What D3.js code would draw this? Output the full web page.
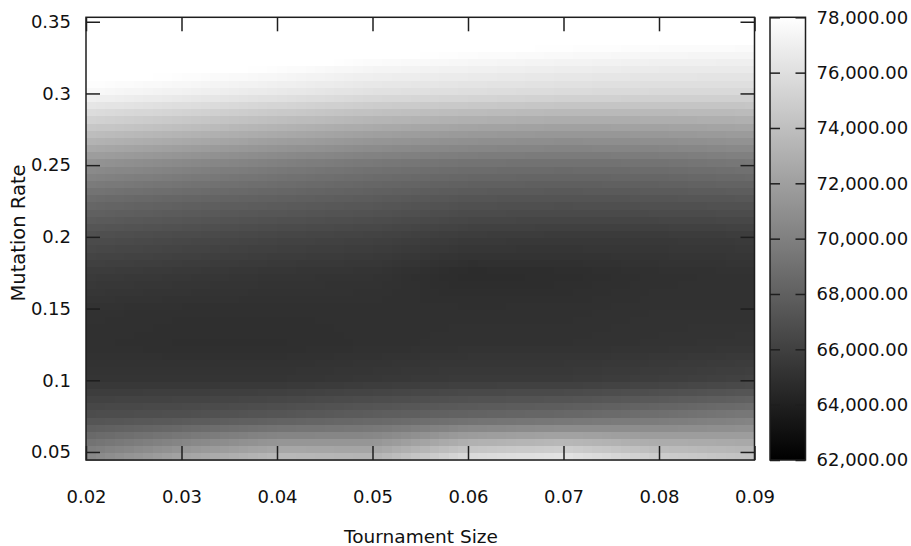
<!DOCTYPE html>
<html>
<head>
<meta charset="utf-8">
<script src="https://cdn.jsdelivr.net/npm/d3@7"></script>
<style>
  html, body { margin: 0; padding: 0; background: #fff; }
  svg { display: block; }
  text { font-family: "DejaVu Sans", Verdana, sans-serif; fill: #111; }
</style>
</head>
<body>
<svg id="chart" width="911" height="546"></svg>
<script>
// Grid nodes of the parameter sweep
const tournamentSizes = [0.02, 0.03, 0.04, 0.05, 0.06, 0.07, 0.08, 0.09];
const mutationRates = [0.044, 0.075, 0.1, 0.125, 0.15, 0.175, 0.2, 0.225, 0.25, 0.275, 0.3, 0.325, 0.354];

// Fitness at each node, one row per mutation rate (bottom row first)
const fitness = [
  [70800, 72800, 74200, 73800, 76400, 77000, 75400, 74600],
  [66900, 67100, 67500, 68000, 68400, 68700, 69200, 69800],
  [65300, 65300, 65300, 65500, 65700, 65700, 65900, 66200],
  [65000, 64900, 64900, 65000, 65100, 65100, 65200, 65300],
  [65100, 65000, 65000, 65000, 65000, 65000, 65100, 65100],
  [65700, 65500, 65300, 65200, 64700, 64800, 65000, 65100],
  [66900, 66600, 66300, 66100, 65700, 65600, 65600, 65700],
  [68600, 68200, 67900, 67600, 67200, 67100, 67200, 67300],
  [71000, 70400, 69800, 69300, 69000, 68900, 69000, 69300],
  [74300, 73700, 73000, 72400, 72000, 71800, 71900, 72100],
  [77500, 77000, 76500, 76000, 75800, 75600, 75500, 75500],
  [79000, 78800, 78500, 78000, 77700, 77500, 77300, 77200],
  [80200, 80200, 79900, 79600, 79300, 79300, 79300, 79300]
];

const xTicks = [0.02, 0.03, 0.04, 0.05, 0.06, 0.07, 0.08, 0.09];
const yTicks = [0.05, 0.1, 0.15, 0.2, 0.25, 0.3, 0.35];
const colorTicks = [62000, 64000, 66000, 68000, 70000, 72000, 74000, 76000, 78000];
const colorRange = [62000, 78000];
const xTitle = "Tournament Size";
const yTitle = "Mutation Rate";

// Layout
const plot = { left: 86, right: 754.5, top: 17.3, bottom: 460 };
const bar = { left: 770, right: 805.5 };
const frameColor = "#1e1e1e";
const tickFont = 18;

const svg = d3.select("#chart");

const x = d3.scaleLinear().domain([0.02, 0.09]).range([plot.left, plot.right]);
const y = d3.scaleLinear().domain([0.0444, 0.3531]).range([plot.bottom, plot.top]);
const gray = d3.scaleLinear().domain(colorRange).range(["#000000", "#ffffff"]).clamp(true);

// Bilinear shading between grid nodes (sub-cells like pm3d interpolation)
function shade(xv, yv) {
  const i = Math.max(0, Math.min(tournamentSizes.length - 2, d3.bisectRight(tournamentSizes, xv) - 1));
  const j = Math.max(0, Math.min(mutationRates.length - 2, d3.bisectRight(mutationRates, yv) - 1));
  const x0 = tournamentSizes[i], x1 = tournamentSizes[i + 1];
  const y0 = mutationRates[j], y1 = mutationRates[j + 1];
  const tx = Math.max(0, Math.min(1, (xv - x0) / (x1 - x0)));
  const ty = Math.max(0, Math.min(1, (yv - y0) / (y1 - y0)));
  const a = fitness[j][i], b = fitness[j][i + 1];
  const c = fitness[j + 1][i], d = fitness[j + 1][i + 1];
  return (a * (1 - tx) + b * tx) * (1 - ty) + (c * (1 - tx) + d * tx) * ty;
}

const xStep = 0.001, yStep = 0.005;
const cells = [];
const [yLo, yHi] = y.domain();
for (let xs = 0.02; xs < 0.09 - 1e-9; xs += xStep) {
  for (let ys = yLo; ys < yHi - 1e-9; ys += yStep) {
    const xe = Math.min(xs + xStep, 0.09), ye = Math.min(ys + yStep, yHi);
    cells.push({ x0: xs, x1: xe, y0: ys, y1: ye, v: shade((xs + xe) / 2, (ys + ye) / 2) });
  }
}

svg.append("g")
  .attr("shape-rendering", "crispEdges")
  .selectAll("rect")
  .data(cells)
  .join("rect")
  .attr("x", d => x(d.x0))
  .attr("y", d => y(d.y1))
  .attr("width", d => x(d.x1) - x(d.x0) + 0.6)
  .attr("height", d => y(d.y0) - y(d.y1) + 0.6)
  .attr("fill", d => gray(d.v));

// Axes with inward ticks on all four sides
const tickLen = 14;
const fmtY = d => String(+d.toFixed(2));

const gx = svg.append("g")
  .attr("transform", `translate(0,${plot.bottom})`)
  .call(d3.axisBottom(x).tickValues(xTicks).tickFormat(d3.format(".2f"))
    .tickSizeInner(-tickLen).tickSizeOuter(0).tickPadding(30));
const gxTop = svg.append("g")
  .attr("transform", `translate(0,${plot.top})`)
  .call(d3.axisTop(x).tickValues(xTicks).tickFormat("")
    .tickSizeInner(-tickLen).tickSizeOuter(0));
const gy = svg.append("g")
  .attr("transform", `translate(${plot.left},0)`)
  .call(d3.axisLeft(y).tickValues(yTicks).tickFormat(fmtY)
    .tickSizeInner(-tickLen).tickSizeOuter(0).tickPadding(15));
const gyRight = svg.append("g")
  .attr("transform", `translate(${plot.right},0)`)
  .call(d3.axisRight(y).tickValues(yTicks).tickFormat("")
    .tickSizeInner(-tickLen).tickSizeOuter(0));

[gx, gxTop, gy, gyRight].forEach(g => {
  g.select(".domain").remove();
  g.selectAll(".tick line").attr("stroke", frameColor).attr("stroke-width", 1.5);
  g.selectAll("text").attr("font-size", tickFont).attr("fill", "#111")
    .attr("font-family", "\"DejaVu Sans\", Verdana, sans-serif");
});

svg.append("rect")
  .attr("x", plot.left).attr("y", plot.top)
  .attr("width", plot.right - plot.left).attr("height", plot.bottom - plot.top)
  .attr("fill", "none").attr("stroke", frameColor).attr("stroke-width", 1.5);

// Colour bar
const c = d3.scaleLinear().domain(colorRange).range([plot.bottom, plot.top]);
const defs = svg.append("defs");
const grad = defs.append("linearGradient").attr("id", "barGrad")
  .attr("x1", 0).attr("y1", 1).attr("x2", 0).attr("y2", 0);
d3.range(0, 1.0001, 0.125).forEach(t => {
  grad.append("stop").attr("offset", t)
    .attr("stop-color", gray(colorRange[0] + t * (colorRange[1] - colorRange[0])));
});
svg.append("rect")
  .attr("x", bar.left).attr("y", plot.top)
  .attr("width", bar.right - bar.left).attr("height", plot.bottom - plot.top)
  .attr("fill", "url(#barGrad)");

const barTick = 10;
const gc = svg.append("g")
  .attr("transform", `translate(${bar.right},0)`)
  .call(d3.axisRight(c).tickValues(colorTicks).tickFormat(d3.format(",.2f"))
    .tickSizeInner(-barTick).tickSizeOuter(0).tickPadding(11));
const gcLeft = svg.append("g")
  .attr("transform", `translate(${bar.left},0)`)
  .call(d3.axisLeft(c).tickValues(colorTicks).tickFormat("")
    .tickSizeInner(-barTick).tickSizeOuter(0));
[gc, gcLeft].forEach(g => {
  g.select(".domain").remove();
  g.selectAll(".tick line").attr("stroke", frameColor).attr("stroke-width", 1.5);
  g.selectAll("text").attr("font-size", tickFont).attr("fill", "#111")
    .attr("font-family", "\"DejaVu Sans\", Verdana, sans-serif");
});
svg.append("rect")
  .attr("x", bar.left).attr("y", plot.top)
  .attr("width", bar.right - bar.left).attr("height", plot.bottom - plot.top)
  .attr("fill", "none").attr("stroke", frameColor).attr("stroke-width", 1.5);

// Axis titles
svg.append("text")
  .attr("x", 421).attr("y", 543)
  .attr("text-anchor", "middle").attr("font-size", 18.5)
  .text(xTitle);
svg.append("text")
  .attr("transform", `translate(25,233) rotate(-90)`)
  .attr("text-anchor", "middle").attr("font-size", 19.5)
  .text(yTitle);
</script>
</body>
</html>
